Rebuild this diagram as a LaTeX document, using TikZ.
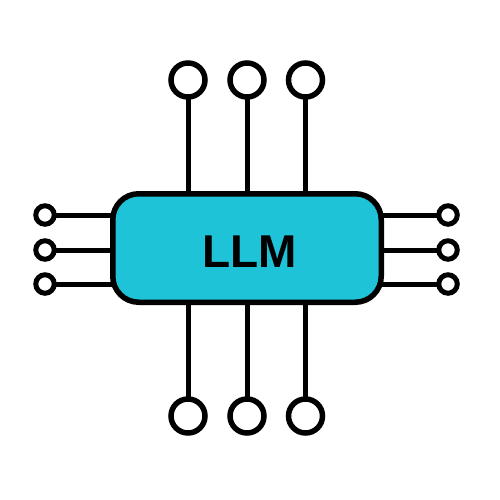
\documentclass[tikz,border=0pt]{standalone}
\usepackage{fontspec}
\setmainfont{Liberation Sans}
\definecolor{llmfill}{HTML}{1FC3D8}
\tikzset{x=1pt,y=-1pt,
 wire/.style={line width=5pt,black},
 bigpin/.style={circle,draw=black,line width=5.5pt,fill=white,minimum size=34pt,inner sep=0pt,outer sep=0pt},
 smallpin/.style={circle,draw=black,line width=5pt,fill=white,minimum size=18.5pt,inner sep=0pt,outer sep=0pt},
 chip/.style={rectangle,rounded corners=26pt,draw=black,line width=5.5pt,fill=llmfill,minimum width=268.5pt,minimum height=108.5pt,inner sep=0pt,outer sep=0pt},
 chiplabel/.style={inner sep=0pt,font=\bfseries\fontsize{46}{46}\selectfont}}
\begin{document}
\begin{tikzpicture}
\useasboundingbox (0,0) rectangle (500,500);
\node[bigpin] (t1) at (188,80) {};
\node[bigpin] (t2) at (247,80) {};
\node[bigpin] (t3) at (305.5,80) {};
\node[bigpin] (b1) at (188,416) {};
\node[bigpin] (b2) at (247,416) {};
\node[bigpin] (b3) at (305.5,416) {};
\node[smallpin] (l1) at (45,215) {};
\node[smallpin] (l2) at (45,250) {};
\node[smallpin] (l3) at (45,284) {};
\node[smallpin] (r1) at (448,215) {};
\node[smallpin] (r2) at (448,250) {};
\node[smallpin] (r3) at (448,284) {};
\coordinate (ct1) at (188,248); \coordinate (ct2) at (247,248); \coordinate (ct3) at (305.5,248);
\coordinate (cl1) at (247,215); \coordinate (cl2) at (247,250); \coordinate (cl3) at (247,284);
\foreach \n in {1,2,3} {
 \draw[wire] (t\n) -- (ct\n);
 \draw[wire] (b\n) -- (ct\n);
 \draw[wire] (l\n) -- (cl\n);
 \draw[wire] (r\n) -- (cl\n);
}
\node[chip] (c) at (247,248) {};
\node[chiplabel] (lbl) at (249.5,251.5) {LLM};
\end{tikzpicture}
\end{document}
